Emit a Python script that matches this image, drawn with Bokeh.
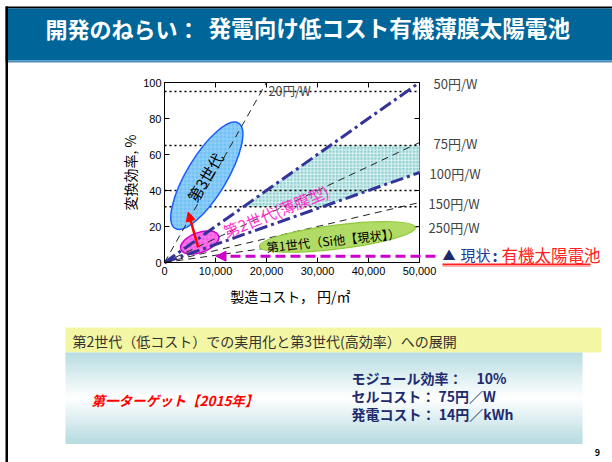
from bokeh.plotting import figure
from bokeh.models import (Range1d, Label, BoxAnnotation, PolyAnnotation,
                          Arrow, NormalHead, FixedTicker, NumeralTickFormatter)
from bokeh.core.properties import value
from bokeh.embed import file_html
from bokeh.resources import INLINE

JP = "Noto Sans CJK JP"

# ---- data -------------------------------------------------------------
# iso-price lines in 円/W; efficiency[%] = cost[円/m2] / (10 * price)
price_per_watt = [20, 50, 75, 100, 150, 250]
price_labels = ["20円/W", "50円/W", "75円/W", "100円/W", "150円/W", "250円/W"]
bold_prices = [50, 100]

efficiency_guides = [95, 65, 40, 31]

# thin-film (2nd generation) target band
band_eff = [31, 65]
band_price = [50, 100]

# technology generations: centre cost (円/m2), centre efficiency (%)
gen_names = ["第3世代", "第2世代(薄膜型)", "第1世代（Si他【現状】）"]
gen_cost = [8300, 6900, 33900]
gen_eff = [48.2, 11.1, 14.2]

# today's organic cells
current_eff = 3.5
current_cost = 10100

# step from 2nd generation towards 3rd generation
step_cost = [6600, 4650]
step_eff = [8.5, 28.0]

cost_ticks = [0, 10000, 20000, 30000, 40000, 50000]
eff_ticks = [0, 20, 40, 60, 80, 100]
cost_max = 50000
eff_max = 100

target_lines = ["モジュール効率：　10%", "セルコスト：  75円／W", "発電コスト：  14円／kWh"]

# ---- page geometry ---------------------------------------------------------
W, H = 612, 462
PX_L, PX_R, PX_T, PX_B = 164, 419, 82, 262      # chart box on the page
kx = cost_max / (PX_R - PX_L)                   # cost per pixel
ky = eff_max / (PX_B - PX_T)                    # efficiency per pixel

p = figure(width=W, height=H, title=None,
           x_range=Range1d(-PX_L * kx, cost_max + (W - PX_R) * kx),
           y_range=Range1d(-(H - PX_B) * ky, eff_max + PX_T * ky),
           output_backend="svg", toolbar_location=None,
           min_border=0, min_border_left=0, min_border_right=0,
           min_border_top=0, min_border_bottom=0,
           background_fill_color="white", border_fill_color="white",
           outline_line_color=None)
p.xgrid.visible = False
p.ygrid.visible = False

# pixel-space ranges for the slide furniture
p.extra_x_ranges = {"px": Range1d(0, W)}
p.extra_y_ranges = {"px": Range1d(H, 0)}


def style_axis(ax, ticks, bounds):
    ax.ticker = FixedTicker(ticks=ticks)
    ax.bounds = bounds
    ax.major_tick_in = 5
    ax.major_tick_out = 0
    ax.minor_tick_line_color = None
    ax.axis_line_color = "black"
    ax.major_tick_line_color = "black"
    ax.major_label_text_font = "Liberation Sans"
    ax.major_label_text_font_size = "11px"
    ax.major_label_text_color = "black"
    ax.axis_label_text_font = JP
    ax.axis_label_text_font_style = "normal"
    ax.axis_label_text_font_size = "14px"
    ax.axis_label_text_color = "black"


xa = p.xaxis[0]
style_axis(xa, cost_ticks, (0, cost_max))
xa.fixed_location = 0
xa.formatter = NumeralTickFormatter(format="0,0")
xa.major_label_standoff = 4
xa.axis_label = "製造コスト，  円/㎡"
xa.axis_label_standoff = 8

ya = p.yaxis[0]
style_axis(ya, eff_ticks, (0, eff_max))
ya.fixed_location = 0
ya.major_label_standoff = 3
ya.axis_label = "変換効率, %"
ya.axis_label_standoff = 0


# ---- slide furniture ------------------------------------------------------
def pxbox(l, r, t, b, color, **kw):
    p.add_layout(BoxAnnotation(left=l, right=r, top=t, bottom=b,
                               fill_color=color, fill_alpha=1, line_color=None,
                               x_range_name="px", y_range_name="px", **kw))


def pxlabel(x, y, text, size, color="black", style="normal", align="left", **kw):
    p.add_layout(Label(x=x, y=y, text=text, text_font=JP, text_font_size=size,
                       text_color=color, text_font_style=style, text_align=align,
                       text_baseline="middle", x_range_name="px", y_range_name="px", **kw))


# title bar
pxbox(5, 612, 6, 8, "black")
pxbox(5, 612, 8, 60, "#006699")
pxbox(5, 612, 60, 62, "#4a90bd")
pxbox(5, 7.5, 6, 462, "black")
pxlabel(45, 27, "開発のねらい：", "22px", "white", "bold")
pxlabel(208, 27, "発電向け低コスト有機薄膜太陽電池", "22.6px", "white", "bold")

# summary band
pxbox(65, 601, 327, 352, "#f3f6a2")
pxlabel(72, 340, "第2世代（低コスト）での実用化と第3世代(高効率）への展開", "14px", "#333333")

# gradient panel built from thin strips
top_c, bot_c, mid_c = (184, 221, 226), (182, 220, 225), (255, 255, 255)
y0, y1, n = 352.0, 443.0, 46
for i in range(n):
    t = (i + 0.5) / n
    if t < 0.5:
        f = t / 0.5
        c = tuple(int(top_c[k] + (mid_c[k] - top_c[k]) * f) for k in range(3))
    else:
        f = (t - 0.5) / 0.5
        c = tuple(int(mid_c[k] + (bot_c[k] - mid_c[k]) * f) for k in range(3))
    hx = "#%02x%02x%02x" % c
    pxbox(65, 582, y0 + (y1 - y0) * i / n, y0 + (y1 - y0) * (i + 1) / n + 0.6, hx)

pxlabel(91, 399, "第一ターゲット【2015年】", "13.5px", "#ff0000", "bold italic")
for k, line in enumerate(target_lines):
    pxlabel(351, 377 + 18 * k, line, "14px", "#222a6e", "bold")
pxlabel(597, 452, "9", "9px", "black", "bold", align="center")

# ---- chart body ------------------------------------------------------------
# chart box and inward ticks on the top and right edges
p.quad(left=[0], right=[cost_max], bottom=[0], top=[eff_max],
       fill_color=None, line_color="black", line_width=1)
p.segment(x0=cost_ticks, x1=cost_ticks, y0=[eff_max] * len(cost_ticks),
          y1=[eff_max - 5 * ky] * len(cost_ticks), line_color="black", line_width=1)
p.segment(x0=[cost_max] * len(eff_ticks), x1=[cost_max - 5 * kx] * len(eff_ticks),
          y0=eff_ticks, y1=eff_ticks, line_color="black", line_width=1)

# target band: between 50 and 100 円/W, capped by the efficiency guides
bx = [10 * band_price[0] * band_eff[0], 10 * band_price[1] * band_eff[0],
      cost_max, cost_max, 10 * band_price[0] * band_eff[1]]
by = [band_eff[0], band_eff[0], cost_max / (10 * band_price[1]), band_eff[1], band_eff[1]]
p.patch(bx, by, fill_color="#93d2d2", line_color=None,
        hatch_pattern="+", hatch_color="white", hatch_scale=3.5, hatch_weight=0.9, hatch_alpha=0.8)

p.segment(x0=[0] * len(efficiency_guides), x1=[cost_max] * len(efficiency_guides),
          y0=efficiency_guides, y1=efficiency_guides,
          line_color="black", line_width=1.5, line_dash=value([2, 3]))

# 3rd and 2nd generation ellipses (under the price lines)
p.ellipse(x=[gen_cost[0]], y=[gen_eff[0]], width=123, height=40, angle=59, angle_units="deg",
          width_units="screen", height_units="screen",
          fill_color="#72c2f4", line_color="#1a5cff", line_width=1.5,
          hatch_pattern="+", hatch_color="#b8e0ff", hatch_scale=4, hatch_weight=0.7, hatch_alpha=0.7)
p.ellipse(x=[gen_cost[1]], y=[gen_eff[1]], width=40, height=20, angle=20, angle_units="deg",
          width_units="screen", height_units="screen",
          fill_color="#ff77ee", line_color="#cc00cc", line_width=1.5,
          hatch_pattern="+", hatch_color="#dd33cc", hatch_scale=4, hatch_weight=0.7, hatch_alpha=0.6)

# iso-price lines from the origin
for price in price_per_watt:
    x_end = min(cost_max, 10 * price * eff_max)
    y_end = x_end / (10 * price)
    if price in bold_prices:
        p.line([0, x_end], [0, y_end], line_color="#333399", line_width=3, line_dash="13 4 3 4")
    else:
        p.line([0, x_end], [0, y_end], line_color="#222222", line_width=1, line_dash="7 5")

# 1st generation ellipse (over the price lines)
p.ellipse(x=[gen_cost[2]], y=[gen_eff[2]], width=157, height=24, angle=7, angle_units="deg",
          width_units="screen", height_units="screen",
          fill_color="#b0dc66", line_color="#90c838", line_width=1.2)

# generation labels
p.text(x=[7920], y=[47.4], text=[gen_names[0]], angle=59, angle_units="deg",
       text_font=value(JP), text_font_size=value("15px"), text_color="black",
       text_align="center", text_baseline="middle")
p.text(x=[21840], y=[28.7], text=[gen_names[1]], angle=22, angle_units="deg",
       text_font=value(JP), text_font_size=value("15.5px"), text_color="#ff33cc",
       text_align="center", text_baseline="middle")
p.text(x=[33100], y=[12.3], text=[gen_names[2]], angle=6, angle_units="deg",
       text_font=value(JP), text_font_size=value("12.3px"), text_color="black",
       text_align="center", text_baseline="middle")

# step arrow 2nd -> 3rd generation
p.add_layout(Arrow(x_start=step_cost[0], y_start=step_eff[0], x_end=step_cost[1], y_end=step_eff[1],
                   line_color="#ff0000", line_width=2.5,
                   end=NormalHead(size=9, fill_color="#ff0000", line_color="#ff0000")))

# today's organic cells
p.add_layout(Arrow(x_start=cost_max + 16 * kx, y_start=current_eff,
                   x_end=current_cost, y_end=current_eff,
                   line_color="#cc00cc", line_width=3, line_dash="10 5",
                   end=NormalHead(size=10, fill_color="#cc00cc", line_color="#cc00cc")))

# big upward arrow into the chart
p.add_layout(PolyAnnotation(xs=[185.5, 197, 197, 206, 191.5, 177, 185.5],
                            ys=[326, 326, 270, 270, 253, 270, 270],
                            fill_color="#ff33cc", fill_alpha=1, line_color="#ff33cc",
                            x_range_name="px", y_range_name="px"))

# price labels
label_x = {20: 268, 50: 433, 75: 433, 100: 429, 150: 428, 250: 428}
for price, txt in zip(price_per_watt, price_labels):
    x_end = min(cost_max, 10 * price * eff_max)
    y_end = x_end / (10 * price)
    if price == 20:
        p.add_layout(Label(x=label_x[price], y=95.5, text=txt, text_font=JP,
                           text_font_size="12.5px", text_baseline="middle",
                           x_range_name="px"))
    else:
        p.add_layout(Label(x=label_x[price], y=y_end - 0.8, text=txt, text_font=JP,
                           text_font_size="13px", text_baseline="middle",
                           x_range_name="px"))

# note for the current status
pxlabel(442, 254, "▲", "13px", "#1a2a6c")
pxlabel(460, 254, "現状", "15px", "#1f3a93")
pxlabel(492, 254, ":", "16px", "#1f3a93", "bold")
pxlabel(501, 254, "有機太陽電池", "16.5px", "#ff2020")
pxbox(442, 590, 263, 265, "#ff2020")
pxbox(442, 590, 265, 266.5, "#ffb0b0")

open("out.html", "w").write(file_html(p, INLINE))
